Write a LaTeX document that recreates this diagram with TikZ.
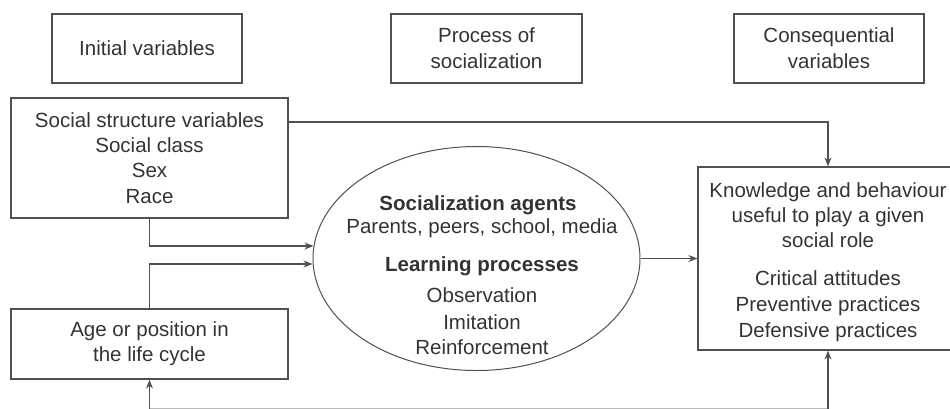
\documentclass[tikz,border=0pt]{standalone}
\usepackage{fontspec}
\setmainfont{Liberation Sans}
\usetikzlibrary{arrows.meta,shapes.geometric}
\definecolor{ln}{HTML}{505050}
\definecolor{tx}{HTML}{333333}
\begin{document}
\begin{tikzpicture}[x=1pt,y=-1pt,
  box/.style={draw=ln, line width=1.2pt, inner sep=0pt, text=tx, align=center,
    font=\fontsize{20.5}{26}\selectfont},
  txt/.style={text=tx, align=center, inner sep=0pt, font=\fontsize{20.5}{25.5}\selectfont},
  arr/.style={draw=ln, line width=1.1pt, -{Stealth[length=9pt,width=7pt]}},
  con/.style={draw=ln, line width=1.1pt}]
\clip (0,0) rectangle (950,408);
% header boxes
\node[box, minimum width=190pt, minimum height=69pt] (iv) at (147,48.5) {Initial variables};
\node[box, minimum width=191pt, minimum height=69pt] (ps) at (486.5,48.5) {Process of\\socialization};
\node[box, minimum width=190pt, minimum height=69pt] (cv) at (829,48.5) {Consequential\\variables};
% left boxes
\node[box, minimum width=277pt, minimum height=120pt, font=\fontsize{20.5}{25.3}\selectfont] (soc) at (149.5,158)
  {Social structure variables\\Social class\\Sex\\Race};
\node[box, minimum width=277pt, minimum height=70pt, font=\fontsize{20.5}{25}\selectfont] (age) at (149.5,344)
  {Age or position in\\the life cycle};
% ellipse
\node[ellipse, draw=ln, line width=1pt, minimum width=327pt, minimum height=224pt, inner sep=0pt] (ell) at (476.5,258.5) {};
\node[txt, anchor=base, font=\fontsize{20.5}{25}\selectfont\bfseries] (t1) at (478,210) {Socialization agents};
\node[txt, anchor=base] (t2) at (482,233.5) {Parents, peers, school, media};
\node[txt, anchor=base, font=\fontsize{20.5}{25}\selectfont\bfseries] (t3) at (482,271.5) {Learning processes};
\node[txt, anchor=base] (t4) at (482,302.5) {Observation};
\node[txt, anchor=base] (t5) at (482,329.5) {Imitation};
\node[txt, anchor=base] (t6) at (482,354.5) {Reinforcement};
% right box
\node[box, minimum width=260pt, minimum height=183pt] (rb) at (828,258.5) {};
\node[txt, anchor=base] (r1) at (828,197.5) {Knowledge and behaviour};
\node[txt, anchor=base] (r2) at (828,222.5) {useful to play a given};
\node[txt, anchor=base] (r3) at (828,247.5) {social role};
\node[txt, anchor=base] (r4) at (828,285.5) {Critical attitudes};
\node[txt, anchor=base] (r5) at (828,311.5) {Preventive practices};
\node[txt, anchor=base] (r6) at (828,337.5) {Defensive practices};
% connectors
\draw[arr] ([yshift=36pt]soc.east) -| (rb.north);
\draw[arr] (soc.south) |- ([yshift=12.5pt,xshift=1pt]ell.west);
\draw[arr] (age.north) |- ([yshift=-5.5pt]ell.west);
\draw[arr] (ell.east) -- (rb.west);
\coordinate (b1) at (149.5,409);
\coordinate (b2) at (828,409);
\draw[con, draw=ln!40] (b1) -- (b2);
\draw[arr] (b1) -- (age.south);
\draw[arr] (b2) -- (rb.south);
\end{tikzpicture}
\end{document}
